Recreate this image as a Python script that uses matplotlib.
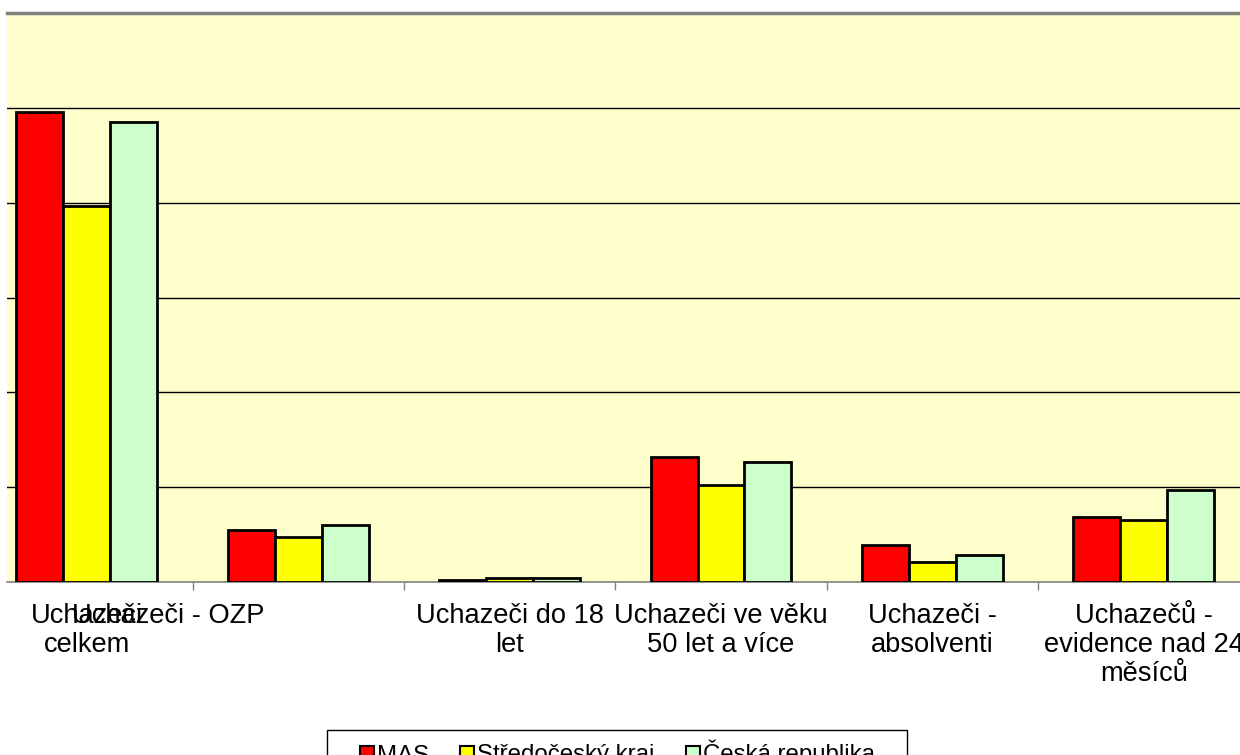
import matplotlib
matplotlib.use('Agg')
import matplotlib.pyplot as plt
import matplotlib.patches as patches
import matplotlib.transforms as mtransforms
import numpy as np

# categories and values
categories = ['Uchazeči\ncelkem', 'Uchazeči - OZP', 'Uchazeči do 18\nlet',
              'Uchazeči ve věku\n50 let a více', 'Uchazeči -\nabsolventi',
              'Uchazečů -\nevidence nad 24\nměsíců']
series_names = ['MAS', 'Středočeský kraj', 'Česká republika']
mas = [4.96, 0.55, 0.02, 1.32, 0.39, 0.69]
stredocesky = [3.97, 0.47, 0.04, 1.02, 0.21, 0.655]
cr = [4.85, 0.60, 0.04, 1.27, 0.28, 0.97]

RED = '#FF0000'
YELLOW = '#FFFF00'
GREEN = '#CCFFCC'
BG = '#FFFFCC'
GRAY = '#808080'

plt.rcParams['font.family'] = ['Liberation Sans', 'DejaVu Sans']

fig = plt.figure(figsize=(12.4, 7.55), dpi=100)
ax = fig.add_axes([7 / 1240, 173 / 755, 1233 / 1240, 569 / 755])
ax.set_facecolor(BG)

x = np.arange(len(categories))
w = 1 / 4.5
for i, (vals, col, name) in enumerate(zip([mas, stredocesky, cr], [RED, YELLOW, GREEN], series_names)):
    ax.bar(x + (i - 1) * w, vals, w, color=col, edgecolor='black', linewidth=2,
           label=name, zorder=3)

ax.set_xlim(-0.3775, 5.455)
ax.set_ylim(0, 6)
ax.set_yticks([])
for v in range(1, 6):
    ax.axhline(v, color='black', linewidth=1, zorder=1)

ax.set_xticks(x[:-1] + 0.5)
ax.set_xticklabels([])
ax.tick_params(axis='x', length=6, width=1, color=GRAY, direction='out')

for side in ['left', 'right']:
    ax.spines[side].set_visible(False)
ax.spines['top'].set_color(GRAY)
ax.spines['top'].set_linewidth(2.5)
ax.spines['bottom'].set_color(GRAY)
ax.spines['bottom'].set_linewidth(1.2)

# category labels below the axis (Excel-style wrapping, OZP label shifted left)
label_shift = [0, -0.615, 0, 0, 0, 0]
trans = mtransforms.blended_transform_factory(ax.transData, ax.transAxes)
for xi, lab, sh in zip(x, categories, label_shift):
    ax.text(xi + sh, -0.037, lab, transform=trans, ha='center', va='top',
            fontsize=19.6, linespacing=1.15, color='black', clip_on=False)

# legend: frameless entries plus a separate box (box runs off the bottom edge)
leg = fig.legend(loc='upper center', bbox_to_anchor=(0.498, 15 / 755), ncol=3,
                 fontsize=17.3, frameon=False,
                 handlelength=0.58, handleheight=0.58, handletextpad=0.12,
                 columnspacing=1.3, borderpad=0, borderaxespad=0)
for h in leg.legend_handles:
    h.set_linewidth(1.5)
box = patches.Rectangle((327 / 1240, -0.02), 580 / 1240, 25 / 755 + 0.02,
                        transform=fig.transFigure, facecolor='none',
                        edgecolor='black', linewidth=1)
fig.patches.append(box)

fig.savefig('out.png', dpi=100, facecolor='white')
